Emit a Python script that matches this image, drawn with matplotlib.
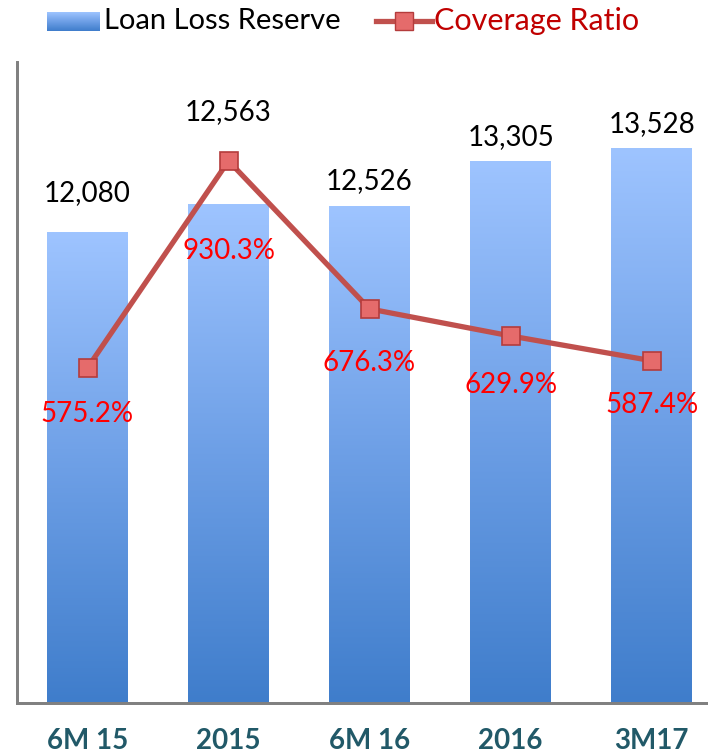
import matplotlib
matplotlib.use("Agg")
import matplotlib.pyplot as plt
import numpy as np
from matplotlib.colors import LinearSegmentedColormap
from matplotlib.lines import Line2D

plt.rcParams['font.family'] = ['Lato', 'DejaVu Sans']

categories = ["6M 15", "2015", "6M 16", "2016", "3M17"]
reserve = [12080, 12563, 12526, 13305, 13528]
coverage = [575.2, 930.3, 676.3, 629.9, 587.4]
reserve_labels = ["12,080", "12,563", "12,526", "13,305", "13,528"]
coverage_labels = ["575.2%", "930.3%", "676.3%", "629.9%", "587.4%"]

# label offsets in points (bar labels above, ratio labels below)
bar_off = [28, 66, 18, 17, 17]
pct_off = [-33, -65, -39, -35, -32]

W, H = 708, 756
fig = plt.figure(figsize=(W / 100, H / 100), dpi=100)
ax = fig.add_axes([17 / W, 53 / H, 1 - 17 / W, (703 - 62) / H])

cmap = LinearSegmentedColormap.from_list("bl", ["#3F7DCB", "#6D9FE6", "#9EC4FF"])
grad = np.linspace(0, 1, 256).reshape(-1, 1)

x = np.arange(len(categories))
bars = ax.bar(x, reserve, width=0.57, color="none", zorder=2)
for b in bars:
    x0 = b.get_x()
    im = ax.imshow(grad, cmap=cmap, origin="lower", aspect="auto",
                   extent=(x0, x0 + b.get_width(), 4000, b.get_height()), zorder=2)
    im.set_clip_path(b)
ax.set_xlim(-0.5, 4.4)
ax.set_ylim(4000, 15000)

for xi, v, lab, off in zip(x, reserve, reserve_labels, bar_off):
    ax.annotate(lab, (xi, v), xytext=(0, off), textcoords="offset points",
                ha="center", va="center", fontsize=20, color="black")

ax2 = ax.twinx()
ax2.set_ylim(0, 1100)
ax2.plot(x, coverage, color="#C0504D", lw=3.8, marker="s", ms=13,
         mfc="#E56B6B", mec="#B43C3C", mew=1.2, zorder=3)
for xi, v, lab, off in zip(x, coverage, coverage_labels, pct_off):
    ax2.annotate(lab, (xi, v), xytext=(0, off), textcoords="offset points",
                 ha="center", va="center", fontsize=20, color="#FF0000")

ax.set_xticks(x)
ax.set_xticklabels(categories, fontsize=20, color="#215968", fontweight="bold")
ax.tick_params(axis="x", length=0, pad=18)
ax.set_yticks([])
ax2.set_yticks([])
for a in (ax, ax2):
    for s in ("top", "right"):
        a.spines[s].set_visible(False)
    a.spines["left"].set_color("#808080")
    a.spines["bottom"].set_color("#808080")
    a.spines["left"].set_linewidth(2)
    a.spines["bottom"].set_linewidth(2)

# legend drawn by hand
lax = fig.add_axes([47 / W, 1 - 31 / H, 53 / W, 19 / H])
lax.imshow(grad, cmap=cmap, origin="lower", aspect="auto")
lax.axis("off")
fig.text(104 / W, 1 - 21 / H, "Loan Loss Reserve", fontsize=21, va="center", color="black")
fig.add_artist(Line2D([376 / W, 432 / W], [1 - 21 / H, 1 - 21 / H], transform=fig.transFigure,
                      color="#C0504D", lw=3.8))
fig.add_artist(Line2D([404 / W], [1 - 21 / H], transform=fig.transFigure,
                      color="#C0504D", marker="s", ms=13, mfc="#E56B6B", mec="#B43C3C", ls="none"))
fig.text(434 / W, 1 - 21 / H, "Coverage Ratio", fontsize=22, va="center", color="#C00000")

fig.savefig("out.png", dpi=100)
